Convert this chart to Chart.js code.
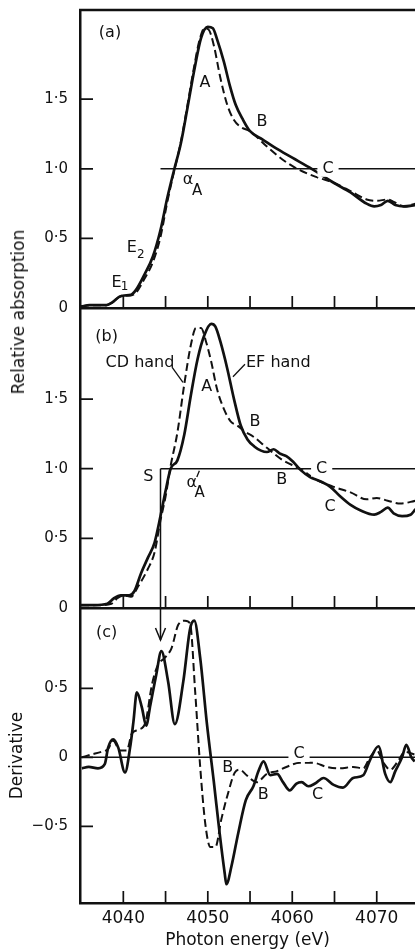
<!DOCTYPE html>
<html lang="en">
<head>
<meta charset="UTF-8">
<title>Absorption edge spectra</title>
<script src="https://cdn.jsdelivr.net/npm/chart.js@4"></script>
<style>
  html, body { margin: 0; padding: 0; background: #fff; overflow: hidden; }
  #wrap { position: relative; width: 415px; height: 951px; }
  #wrap canvas { position: absolute; left: 0; }
  .ytitle { position: absolute; font: 17px "DejaVu Sans", sans-serif; color: #111; white-space: nowrap;
            transform: translate(-50%, -50%) rotate(-90deg); }
</style>
</head>
<body>
<div id="wrap">
  <canvas id="chartA" width="415" height="320" style="top:0"></canvas>
  <canvas id="chartB" width="415" height="320" style="top:300px"></canvas>
  <canvas id="chartC" width="415" height="351" style="top:600px"></canvas>
  <div class="ytitle" style="left:18px; top:312px">Relative absorption</div>
</div>
<script>
// axes
const xMin = 4034.87, xMax = 4074.53;
const xTicks = [4040, 4045, 4050, 4055, 4060, 4065, 4070];
const xLabelled = [4040, 4050, 4060, 4070];
const absTicks = [0, 0.5, 1.0, 1.5];
const absTickLabels = ['0', '0·5', '1·0', '1·5'];
const derTicks = [-0.5, 0, 0.5];
const derTickLabels = ['−0·5', '0', '0·5'];

// panel (a)
const aSolidE = [4035.0, 4036.0, 4037.0, 4038.0, 4038.7, 4039.5, 4040.1, 4040.9, 4041.5, 4042.5, 4043.5, 4044.4, 4045.2, 4046.0, 4046.8, 4047.6, 4048.4, 4049.2, 4050.0, 4050.6, 4051.1, 4051.9, 4052.6, 4053.3, 4054.1, 4055.0, 4056.5, 4058.0, 4060.0, 4062.3, 4064.9, 4066.9, 4068.8, 4069.7, 4070.5, 4071.3, 4072.2, 4073.2, 4074.6];
const aSolidY = [0.01, 0.02, 0.02, 0.02, 0.04, 0.08, 0.09, 0.095, 0.13, 0.24, 0.37, 0.56, 0.79, 0.99, 1.18, 1.44, 1.71, 1.94, 2.02, 2.01, 1.93, 1.77, 1.60, 1.46, 1.36, 1.27, 1.21, 1.15, 1.08, 1.00, 0.90, 0.83, 0.75, 0.73, 0.74, 0.77, 0.74, 0.73, 0.74];
const aDashE = [4035.0, 4036.0, 4037.0, 4038.0, 4038.7, 4039.5, 4040.1, 4040.9, 4041.5, 4042.5, 4043.5, 4044.4, 4045.2, 4046.0, 4046.8, 4047.6, 4048.4, 4049.0, 4049.6, 4050.1, 4050.7, 4051.5, 4052.3, 4053.1, 4053.9, 4055.0, 4057.0, 4059.0, 4060.9, 4062.9, 4064.9, 4066.9, 4068.8, 4070.0, 4071.3, 4072.1, 4073.2, 4074.6];
const aDashY = [0.01, 0.02, 0.02, 0.02, 0.04, 0.08, 0.09, 0.09, 0.11, 0.21, 0.33, 0.51, 0.76, 0.98, 1.19, 1.46, 1.74, 1.92, 2.01, 2.00, 1.89, 1.65, 1.46, 1.35, 1.30, 1.27, 1.16, 1.06, 0.99, 0.94, 0.90, 0.84, 0.78, 0.77, 0.78, 0.76, 0.73, 0.75];

// panel (b): solid = EF hand, dashed = CD hand
const bSolidE = [4035.0, 4036.5, 4038.1, 4038.9, 4039.7, 4040.7, 4041.3, 4042.1, 4042.9, 4043.7, 4044.4, 4045.0, 4045.6, 4046.4, 4047.2, 4048.0, 4048.8, 4049.6, 4050.4, 4050.9, 4051.5, 4052.3, 4053.1, 4053.9, 4054.7, 4055.5, 4056.3, 4057.0, 4057.8, 4058.5, 4059.3, 4060.1, 4061.0, 4062.1, 4063.3, 4064.5, 4065.7, 4066.9, 4068.1, 4069.7, 4070.5, 4071.3, 4072.0, 4073.0, 4074.0, 4074.6];
const bSolidY = [0.02, 0.02, 0.03, 0.07, 0.09, 0.09, 0.12, 0.25, 0.36, 0.47, 0.66, 0.84, 1.00, 1.06, 1.24, 1.53, 1.79, 1.96, 2.04, 2.02, 1.91, 1.72, 1.50, 1.31, 1.21, 1.16, 1.13, 1.12, 1.14, 1.11, 1.09, 1.05, 0.99, 0.94, 0.91, 0.87, 0.80, 0.74, 0.70, 0.67, 0.69, 0.72, 0.68, 0.66, 0.67, 0.71];
const bDashE = [4035.0, 4037.0, 4038.6, 4039.3, 4040.1, 4040.9, 4041.7, 4042.9, 4043.7, 4044.4, 4045.0, 4045.6, 4046.4, 4047.2, 4048.0, 4048.6, 4049.2, 4049.8, 4050.4, 4051.1, 4051.9, 4052.7, 4053.5, 4054.3, 4055.4, 4057.0, 4058.9, 4060.9, 4062.9, 4064.9, 4066.9, 4068.8, 4070.0, 4071.3, 4072.8, 4074.6];
const bDashY = [0.02, 0.02, 0.03, 0.07, 0.09, 0.08, 0.15, 0.28, 0.40, 0.63, 0.80, 1.02, 1.26, 1.60, 1.89, 2.01, 2.01, 1.91, 1.77, 1.57, 1.43, 1.34, 1.31, 1.27, 1.23, 1.15, 1.06, 1.00, 0.92, 0.87, 0.83, 0.78, 0.79, 0.77, 0.75, 0.77];

// panel (c): derivatives
const cSolidE = [4035.1, 4035.9, 4037.0, 4037.8, 4038.2, 4038.8, 4039.4, 4040.2, 4040.8, 4041.2, 4041.6, 4042.2, 4042.7, 4043.2, 4043.9, 4044.5, 4045.3, 4046.1, 4047.1, 4047.9, 4048.4, 4049.1, 4049.9, 4050.7, 4051.4, 4052.0, 4052.2, 4052.8, 4053.6, 4054.5, 4055.4, 4056.0, 4056.6, 4057.4, 4058.2, 4058.9, 4059.7, 4060.5, 4061.1, 4061.9, 4062.7, 4063.7, 4064.9, 4066.0, 4067.2, 4068.4, 4069.2, 4070.2, 4071.0, 4071.6, 4072.2, 4073.0, 4073.5, 4074.1, 4074.5];
const cSolidY = [-0.08, -0.07, -0.08, -0.05, 0.07, 0.13, 0.07, -0.11, 0.07, 0.26, 0.47, 0.36, 0.23, 0.38, 0.60, 0.77, 0.55, 0.24, 0.55, 0.93, 0.99, 0.72, 0.24, -0.17, -0.55, -0.84, -0.92, -0.79, -0.55, -0.31, -0.21, -0.10, -0.03, -0.13, -0.12, -0.18, -0.24, -0.19, -0.18, -0.21, -0.19, -0.15, -0.20, -0.22, -0.15, -0.13, -0.02, 0.08, -0.12, -0.18, -0.10, 0.00, 0.09, 0.00, -0.03];
const cDashE = [4035.1, 4036.2, 4037.4, 4038.2, 4038.8, 4039.6, 4040.4, 4041.0, 4041.8, 4042.6, 4043.4, 4044.1, 4044.9, 4045.7, 4046.5, 4047.3, 4047.9, 4048.5, 4049.1, 4049.7, 4050.3, 4050.9, 4051.6, 4052.4, 4053.2, 4053.8, 4054.6, 4055.8, 4057.0, 4058.2, 4059.3, 4060.9, 4062.5, 4064.1, 4065.6, 4067.2, 4068.4, 4069.2, 4070.0, 4070.8, 4071.6, 4072.6, 4073.3, 4074.5];
const cDashY = [0.00, 0.02, 0.04, 0.06, 0.12, 0.05, 0.05, 0.17, 0.20, 0.25, 0.53, 0.67, 0.72, 0.79, 0.96, 0.99, 0.97, 0.48, -0.07, -0.48, -0.65, -0.65, -0.45, -0.26, -0.11, -0.09, -0.13, -0.18, -0.12, -0.10, -0.07, -0.04, -0.04, -0.07, -0.08, -0.07, -0.08, 0.00, 0.05, -0.04, -0.09, -0.02, 0.04, 0.02];

// reference marks: edge energy S, 1.0 level, arrow tip in (c)
const edgeE = 4044.4;
const edgeLevel = 1.0;
const arrowTip = 0.85;

const aMax = 2.141, bMax = 2.154, cMin = -1.056, cMax = 1.082;

// text annotations (data coords)
const aNotes = [
  {t: '(a)', x: 4038.42, y: 1.98},
  {t: 'A', x: 4049.67, y: 1.62},
  {t: 'B', x: 4056.42, y: 1.34},
  {t: 'C', x: 4064.23, y: 1.0, bg: true},
  {t: 'α', x: 4047.66, y: 0.92, sub: 'A', dx: 9, dy: 11, ss: 15},
  {t: 'E', x: 4040.99, y: 0.43, sub: '2', dx: 9, dy: 7, ss: 12},
  {t: 'E', x: 4039.21, y: 0.18, sub: '1', dx: 8, dy: 4, ss: 12}
];
const bNotes = [
  {t: '(b)', x: 4038.03, y: 1.95},
  {t: 'CD hand', x: 4041.97, y: 1.76},
  {t: 'EF hand', x: 4058.35, y: 1.76},
  {t: 'A', x: 4049.87, y: 1.59},
  {t: 'B', x: 4055.59, y: 1.34},
  {t: 'S', x: 4042.96, y: 0.945},
  {t: 'α', x: 4048.09, y: 0.90, sub: 'A', dx: 8, dy: 10, ss: 15},
  {t: 'B', x: 4058.75, y: 0.92},
  {t: 'C', x: 4063.48, y: 1.0, bg: true},
  {t: 'C', x: 4064.47, y: 0.725}
];
const bLeaders = [[4045.76, 1.73, 4047.06, 1.62], [4054.40, 1.75, 4052.98, 1.66], [4049.0, 0.985, 4048.7, 0.94]];
const cNotes = [
  {t: '(c)', x: 4038.03, y: 0.90},
  {t: 'B', x: 4052.36, y: -0.08},
  {t: 'B', x: 4056.57, y: -0.27},
  {t: 'C', x: 4060.80, y: 0.024, bg: true},
  {t: 'C', x: 4063.01, y: -0.27}
];

const INK = '#111';
const FONT = '"DejaVu Sans", sans-serif';
Chart.defaults.font.family = FONT;
Chart.defaults.color = INK;

const pts = (xs, ys) => xs.map((x, i) => ({x: x, y: ys[i]}));
const solid = d => ({data: d, borderColor: INK, borderWidth: 2.7, pointRadius: 0, cubicInterpolationMode: 'monotone', fill: false});
const dashed = d => ({...solid(d), borderWidth: 2.0, borderDash: [8, 4]});
const rule = d => ({data: d, borderColor: INK, borderWidth: 1.5, pointRadius: 0, tension: 0, fill: false});

// inward ticks, frame, labels, leaders, arrow
const decor = {
  id: 'decor',
  afterDatasetsDraw(chart, args, o) {
    const {ctx, chartArea: ca} = chart;
    const xs = chart.scales.x, ys = chart.scales.y;
    const X = v => xs.getPixelForValue(v), Y = v => ys.getPixelForValue(v);
    ctx.save();
    ctx.strokeStyle = INK;
    ctx.fillStyle = INK;
    ctx.lineWidth = 1.7;
    ctx.beginPath();
    xs.ticks.forEach(t => { const p = X(t.value); ctx.moveTo(p, ca.bottom); ctx.lineTo(p, ca.bottom - 12); });
    ys.ticks.forEach(t => { const p = Y(t.value); ctx.moveTo(ca.left, p); ctx.lineTo(ca.left + 13, p); });
    ctx.stroke();
    if (o.frameTop) {
      ctx.lineWidth = 2.5;
      ctx.beginPath(); ctx.moveTo(ca.left - 1, ca.top); ctx.lineTo(ca.right, ca.top); ctx.stroke();
    }
    ctx.lineWidth = 1.3;
    (o.leaders || []).forEach(l => {
      ctx.beginPath(); ctx.moveTo(X(l[0]), Y(l[1])); ctx.lineTo(X(l[2]), Y(l[3])); ctx.stroke();
    });
    if (o.arrow) {
      const px = X(o.arrow.x), py = Y(o.arrow.y);
      ctx.lineWidth = 1.5;
      ctx.beginPath(); ctx.moveTo(px - 5, py - 12); ctx.lineTo(px, py); ctx.lineTo(px + 5, py - 12); ctx.stroke();
    }
    ctx.textAlign = 'center';
    ctx.textBaseline = 'middle';
    (o.notes || []).forEach(n => {
      const px = X(n.x), py = Y(n.y);
      ctx.font = '16px ' + FONT;
      if (n.bg) {
        const w = ctx.measureText(n.t).width + 10;
        ctx.fillStyle = '#fff';
        ctx.fillRect(px - w / 2, py - 8, w, 16);
        ctx.fillStyle = INK;
      }
      ctx.fillText(n.t, px, py);
      if (n.sub) {
        ctx.font = n.ss + 'px ' + FONT;
        ctx.fillText(n.sub, px + n.dx, py + n.dy);
      }
    });
    ctx.restore();
  }
};

function xScale(showLabels, h) {
  return {
    type: 'linear', min: xMin, max: xMax,
    afterBuildTicks: s => { s.ticks = xTicks.map(v => ({value: v})); },
    afterFit: s => { s.height = h; s.paddingLeft = 0; s.paddingRight = 0; },
    grid: {display: false, drawTicks: false},
    border: {display: true, color: INK, width: 2.5},
    ticks: {display: showLabels, padding: 5, maxRotation: 0, autoSkip: false, font: {size: 17},
            callback: v => xLabelled.includes(v) ? String(v) : ''},
    title: {display: showLabels, text: 'Photon energy (eV)', font: {size: 17}, padding: {top: 0, bottom: 0}}
  };
}

function yScale(min, max, vals, labels, title) {
  return {
    type: 'linear', min: min, max: max,
    afterBuildTicks: s => { s.ticks = vals.map(v => ({value: v})); },
    afterFit: s => { s.width = 80; s.paddingTop = 0; s.paddingBottom = 0; },
    grid: {display: false, drawTicks: false},
    border: {display: true, color: INK, width: 2.5},
    ticks: {padding: 12, font: {size: 15}, callback: v => labels[vals.indexOf(v)]},
    title: {display: !!title, text: title || '', font: {size: 17}, padding: {top: 7, bottom: 0}}
  };
}

function baseOptions(padTop, xs, ys, decorOpts) {
  return {
    responsive: false, devicePixelRatio: 1, animation: false,
    layout: {padding: {top: padTop, left: 0, right: 0, bottom: 0}},
    scales: {x: xs, y: ys},
    plugins: {legend: {display: false}, tooltip: {enabled: false}, decor: decorOpts}
  };
}

new Chart(document.getElementById('chartA'), {
  type: 'line',
  data: {datasets: [
    rule(pts([edgeE, xMax], [edgeLevel, edgeLevel])),
    dashed(pts(aDashE, aDashY)),
    solid(pts(aSolidE, aSolidY))
  ]},
  options: baseOptions(10, xScale(false, 12), yScale(0, aMax, absTicks, absTickLabels),
    {frameTop: true, notes: aNotes}),
  plugins: [decor]
});

new Chart(document.getElementById('chartB'), {
  type: 'line',
  data: {datasets: [
    rule(pts([edgeE, xMax], [edgeLevel, edgeLevel])),
    rule(pts([edgeE, edgeE], [edgeLevel, 0])),
    dashed(pts(bDashE, bDashY)),
    solid(pts(bSolidE, bSolidY))
  ]},
  options: baseOptions(8, xScale(false, 12), yScale(0, bMax, absTicks, absTickLabels),
    {notes: bNotes, leaders: bLeaders}),
  plugins: [decor]
});

new Chart(document.getElementById('chartC'), {
  type: 'line',
  data: {datasets: [
    rule(pts([xMin, xMax], [0, 0])),
    rule(pts([edgeE, edgeE], [cMax, arrowTip])),
    dashed(pts(cDashE, cDashY)),
    solid(pts(cSolidE, cSolidY))
  ]},
  options: baseOptions(8, xScale(true, 48), yScale(cMin, cMax, derTicks, derTickLabels, 'Derivative'),
    {notes: cNotes, arrow: {x: edgeE, y: arrowTip}}),
  plugins: [decor]
});
</script>
</body>
</html>
